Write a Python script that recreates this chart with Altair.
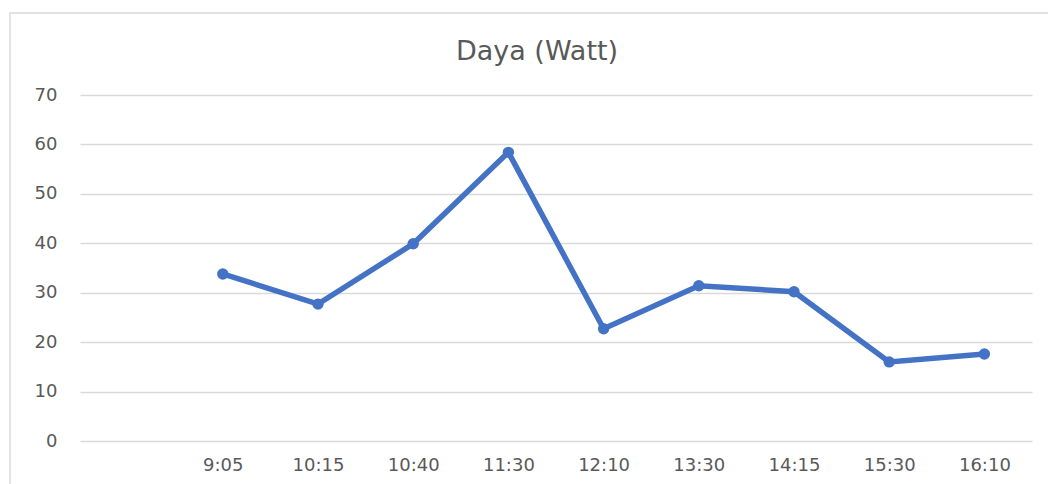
import altair as alt
import pandas as pd

# Data
times = ["9:05", "10:15", "10:40", "11:30", "12:10", "13:30", "14:15", "15:30", "16:10"]
daya = [33.8, 27.7, 39.9, 58.4, 22.7, 31.4, 30.2, 16.0, 17.6]
x_domain = [""] + times  # first category slot is empty in the original
y_ticks = [0, 10, 20, 30, 40, 50, 60, 70]
title_text = "Daya (Watt)"

df = pd.DataFrame({"Waktu": times, "Daya": daya})

GRAY = "#595959"
BLUE = "#4472C4"
FONT = "DejaVu Sans"

x_enc = alt.X(
    "Waktu:N",
    sort=x_domain,
    scale=alt.Scale(type="point", domain=x_domain, padding=0.5),
    axis=alt.Axis(
        title=None, labelAngle=0, ticks=False, tickSize=0, domain=False,
        grid=False, labelPadding=15, labelFontSize=18, labelColor=GRAY,
        labelFont=FONT,
    ),
)
y_enc = alt.Y(
    "Daya:Q",
    scale=alt.Scale(domain=[0, 70], nice=False),
    axis=alt.Axis(
        title=None, values=y_ticks, ticks=False, tickSize=0, domain=False,
        grid=True, gridColor="#d9d9d9", gridWidth=1.5, labelPadding=23,
        labelFontSize=18, labelColor=GRAY, labelFont=FONT,
    ),
)

base = alt.Chart(df).encode(x=x_enc, y=y_enc)
line = base.mark_line(color=BLUE, strokeWidth=5.5)
pts = base.mark_circle(color=BLUE, size=130, opacity=1)

one = pd.DataFrame({"f": [0]})
frame = alt.Chart(one).mark_rect(
    filled=False, stroke="#d9d9d9", strokeWidth=1.5, clip=False
).encode(
    x=alt.value(-70), x2=alt.value(1000), y=alt.value(-82), y2=alt.value(420)
)
title = alt.Chart(one).mark_text(
    font=FONT, fontSize=27, color=GRAY, align="center", baseline="alphabetic"
).encode(x=alt.value(457), y=alt.value(-35), text=alt.value(title_text))

chart = alt.layer(frame, line, pts, title).properties(
    width=952,
    height=346,
    autosize=alt.AutoSizeParams(type="none"),
    padding={"left": 72, "top": 87, "right": 16, "bottom": 43},
).configure_view(stroke=None)

chart.save("out.html", embed_options={"renderer": "svg", "actions": False})
